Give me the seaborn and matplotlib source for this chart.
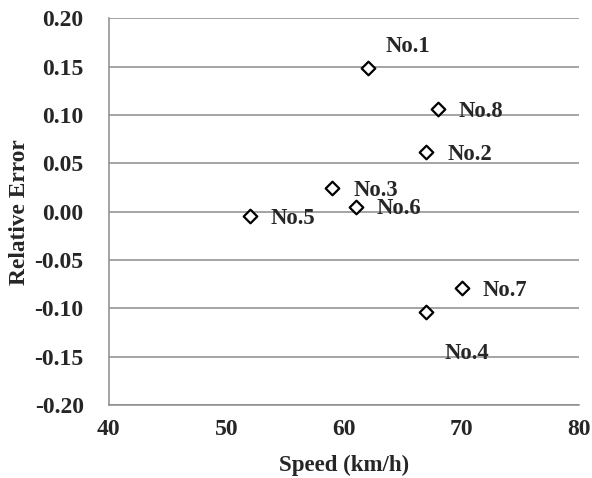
import matplotlib
matplotlib.use("Agg")
import matplotlib.pyplot as plt
import seaborn as sns
import pandas as pd

# Data
names = ["No.1", "No.2", "No.3", "No.4", "No.5", "No.6", "No.7", "No.8"]
speed = [62, 67, 59, 67, 52, 61, 70, 68]
rel_error = [0.149, 0.0615, 0.024, -0.104, -0.0045, 0.005, -0.079, 0.106]
x_ticks = [40, 50, 60, 70, 80]
y_ticks = [-0.20, -0.15, -0.10, -0.05, 0.00, 0.05, 0.10, 0.15, 0.20]

df = pd.DataFrame({"Speed": speed, "Error": rel_error, "Name": names})

sns.set_style("white")
plt.rcParams["font.family"] = ["Liberation Serif", "DejaVu Serif"]
plt.rcParams["font.weight"] = "bold"

fig = plt.figure(figsize=(5.92, 4.78), dpi=100)
ax = fig.add_axes([0.1836, 0.1527, 0.9786 - 0.1836, 0.9617 - 0.1527])

grid_col = "#8c8c8c"
ax.set_axisbelow(True)
ax.yaxis.grid(True, color=grid_col, linewidth=1.1)
ax.xaxis.grid(False)

sns.scatterplot(data=df, x="Speed", y="Error", ax=ax, marker="D", s=48,
                facecolor="white", edgecolor="black", linewidth=1.6, zorder=3)

offsets = {"No.1": (13, 15.5), "No.4": (13, -29.5)}
for n, xv, yv in zip(names, speed, rel_error):
    off = offsets.get(n, (15, -1.5))
    ax.annotate(n, (xv, yv), xytext=off, textcoords="offset points",
                ha="left", va="center", fontsize=16.3, fontweight="bold")

ax.set_xlim(x_ticks[0], x_ticks[-1])
ax.set_ylim(y_ticks[0], y_ticks[-1])
ax.set_xticks(x_ticks)
ax.set_yticks(y_ticks)
ax.set_xticklabels([f"{v:d}" for v in x_ticks])
ax.set_yticklabels([f"{v:.2f}" for v in y_ticks])

for s in ["top", "right"]:
    ax.spines[s].set_visible(False)
for s in ["left", "bottom"]:
    ax.spines[s].set_color(grid_col)
    ax.spines[s].set_linewidth(1.1)

ax.tick_params(axis="x", direction="out", length=4, width=1.1, color=grid_col,
               labelsize=17, pad=6)
ax.tick_params(axis="y", direction="out", length=5, width=1.1, color=grid_col,
               labelsize=17, pad=13)
for lab in ax.get_xticklabels() + ax.get_yticklabels():
    lab.set_fontweight("bold")

ax.set_xlabel("Speed (km/h)", fontsize=16.5, fontweight="bold", labelpad=11)
ax.set_ylabel("Relative Error", fontsize=16.8, fontweight="bold", labelpad=3)

fig.savefig("out.png", dpi=100)
